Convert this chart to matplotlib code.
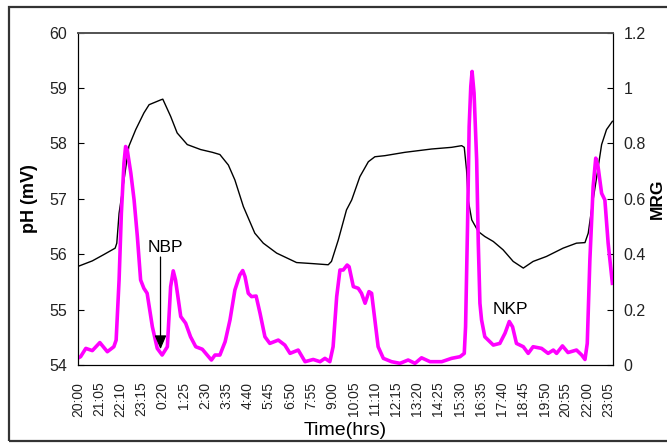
import matplotlib
matplotlib.use("Agg")
import matplotlib.pyplot as plt
from matplotlib.patches import Rectangle

plt.rcParams['font.family'] = ['Liberation Sans', 'DejaVu Sans']

# minutes since 20:00 (day 1) -> pH (mV)
ph_time = [0, 44, 78, 114, 119, 126, 141, 156, 177, 202, 218, 255, 260, 284, 304,
           335, 376, 412, 435, 461, 481, 507, 542, 568, 609, 670, 721, 767, 777,
           798, 823, 839, 864, 890, 910, 941, 1002, 1084, 1145, 1176, 1184, 1191,
           1196, 1207, 1227, 1247, 1273, 1303, 1334, 1365, 1395, 1436, 1487, 1528,
           1554, 1564, 1574, 1590, 1605, 1620, 1638]
ph_vals = [55.78, 55.88, 55.99, 56.11, 56.20, 56.74, 57.34, 57.95, 58.25, 58.55,
           58.70, 58.79, 58.80, 58.49, 58.19, 57.98, 57.89, 57.84, 57.80, 57.61,
           57.34, 56.86, 56.38, 56.20, 56.02, 55.85, 55.83, 55.81, 55.87, 56.26,
           56.80, 56.98, 57.40, 57.67, 57.76, 57.78, 57.84, 57.90, 57.93, 57.96,
           57.93, 57.52, 56.98, 56.62, 56.41, 56.32, 56.23, 56.08, 55.87, 55.75,
           55.87, 55.96, 56.11, 56.20, 56.21, 56.38, 56.80, 57.40, 57.98, 58.25,
           58.40]

# minutes since 20:00 -> MRG
mrg_time = [0, 8, 24, 44, 67, 90, 110, 117, 126, 133, 141, 146, 151, 162, 172, 182,
            192, 202, 212, 228, 243, 258, 274, 284, 292, 299, 315, 330, 345, 361,
            381, 396, 409, 420, 435, 451, 466, 481, 496, 505, 512, 522, 532, 546,
            558, 573, 588, 614, 634, 650, 675, 696, 721, 742, 757, 772, 782, 793,
            803, 813, 825, 831, 844, 859, 869, 880, 892, 900, 910, 920, 936, 961,
            987, 1012, 1033, 1053, 1079, 1115, 1145, 1171, 1184, 1188, 1194, 1199,
            1204, 1208, 1214, 1222, 1227, 1232, 1237, 1247, 1273, 1293, 1309, 1322,
            1332, 1344, 1365, 1380, 1395, 1421, 1441, 1457, 1467, 1485, 1502, 1528,
            1544, 1554, 1561, 1569, 1579, 1587, 1594, 1605, 1615, 1625, 1638]
mrg_vals = [0.025, 0.030, 0.060, 0.052, 0.081, 0.048, 0.066, 0.090, 0.307, 0.548,
            0.729, 0.789, 0.777, 0.693, 0.596, 0.464, 0.307, 0.277, 0.259, 0.138,
            0.060, 0.036, 0.066, 0.283, 0.340, 0.307, 0.175, 0.151, 0.102, 0.066,
            0.057, 0.036, 0.018, 0.036, 0.036, 0.084, 0.163, 0.271, 0.325, 0.341,
            0.319, 0.259, 0.247, 0.249, 0.187, 0.102, 0.078, 0.090, 0.072, 0.042,
            0.054, 0.012, 0.020, 0.012, 0.024, 0.012, 0.066, 0.247, 0.343, 0.343,
            0.361, 0.355, 0.283, 0.277, 0.259, 0.223, 0.265, 0.259, 0.163, 0.066,
            0.024, 0.012, 0.006, 0.018, 0.006, 0.026, 0.012, 0.012, 0.024, 0.030,
            0.042, 0.138, 0.500, 0.861, 1.006, 1.060, 0.982, 0.741, 0.440, 0.223,
            0.163, 0.102, 0.072, 0.078, 0.115, 0.157, 0.138, 0.078, 0.066, 0.042,
            0.066, 0.060, 0.042, 0.054, 0.042, 0.069, 0.045, 0.054, 0.036, 0.020,
            0.078, 0.379, 0.644, 0.747, 0.717, 0.620, 0.596, 0.440, 0.295]

time_labels = ['20:00', '21:05', '22:10', '23:15', '0:20', '1:25', '2:30', '3:35',
               '4:40', '5:45', '6:50', '7:55', '9:00', '10:05', '11:10', '12:15',
               '13:20', '14:25', '15:30', '16:35', '17:40', '18:45', '19:50',
               '20:55', '22:00', '23:05']
tick_step = 65

fig = plt.figure(figsize=(6.67, 4.46), dpi=100)
ax = fig.add_axes([0.1169, 0.1816, 0.8017, 0.7451])
ax2 = ax.twinx()

ax.plot(ph_time, ph_vals, color='black', lw=1.0)
ax2.plot(mrg_time, mrg_vals, color='#ff00ff', lw=2.6, solid_joinstyle='round')

ax.set_xlim(0, 1639)
ax.set_ylim(54, 60)
ax2.set_ylim(0, 1.2)

ax.set_xticks([i * tick_step for i in range(len(time_labels))])
ax.set_xticklabels(time_labels, rotation=90, fontsize=10, color='#222222')
ax.tick_params(axis='x', length=0, pad=12)
ax.set_yticks(range(54, 61))
ax.tick_params(axis='y', direction='in', length=4, pad=8, labelsize=11.5, labelcolor='#222222')
ax2.set_yticks([0, 0.2, 0.4, 0.6, 0.8, 1.0, 1.2])
ax2.set_yticklabels(['0', '0.2', '0.4', '0.6', '0.8', '1', '1.2'])
ax2.tick_params(axis='y', direction='in', length=4, pad=8, labelsize=11.5, labelcolor='#222222')

for a in (ax, ax2):
    a.spines['top'].set_color('#555555')
    a.spines['top'].set_linewidth(1.3)

ax.set_xlabel('Time(hrs)', fontsize=14, labelpad=4)
ax.set_ylabel('pH (mV)', fontsize=13, fontweight='bold', labelpad=8)
ax2.set_ylabel('MRG', fontsize=12.5, fontweight='bold', labelpad=3)

ax2.annotate('', xy=(253, 0.047), xytext=(253, 0.400),
             arrowprops=dict(arrowstyle='-|>,head_width=0.3,head_length=0.7',
                             color='black', lw=0.9, mutation_scale=12))
ax2.text(268, 0.423, 'NBP', fontsize=12.5, ha='center', va='center')
ax2.text(1324, 0.199, 'NKP', fontsize=12.5, ha='center', va='center')

fig.patches.append(Rectangle((9 / 667, 5 / 446), 1.0, 1 - 12 / 446,
                             transform=fig.transFigure, fill=False,
                             edgecolor='#333333', lw=1.6))

fig.savefig('out.png', dpi=100)
